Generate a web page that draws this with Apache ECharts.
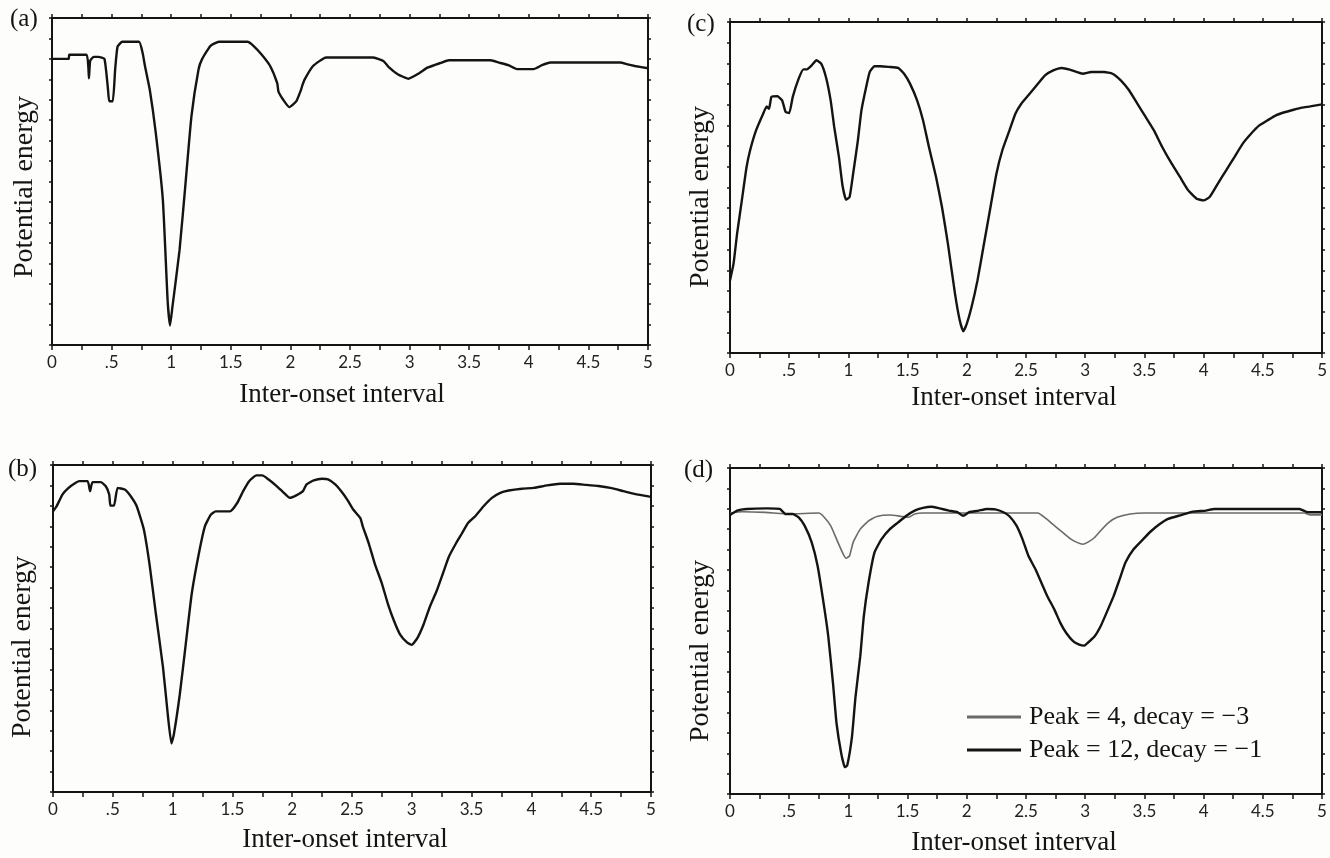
<!DOCTYPE html>
<html>
<head>
<meta charset="utf-8">
<script src="https://cdn.jsdelivr.net/npm/echarts@6/dist/echarts.min.js"></script>
<style>
html,body{margin:0;padding:0;background:#fdfdfb;}
#chart{width:1330px;height:858px;}
</style>
</head>
<body>
<div id="chart"></div>
<script>
// ---- tick labels ----
const xTickLabels = ['0', '.5', '1', '1.5', '2', '2.5', '3', '3.5', '4', '4.5', '5'];
const panelLabels = ['(a)', '(b)', '(c)', '(d)'];
const xAxisTitle = 'Inter-onset interval';
const yAxisTitle = 'Potential energy';
const legendNames = ['Peak = 4, decay = \u22123', 'Peak = 12, decay = \u22121'];

// ---- panel (a) ----
const aX = [0, 0.14, 0.145, 0.29, 0.305, 0.31, 0.32, 0.35, 0.39, 0.44, 0.47, 0.48, 0.51, 0.53, 0.55, 0.59, 0.73, 0.76, 0.78, 0.82, 0.87, 0.93, 0.97, 0.99, 1.01, 1.07, 1.12, 1.17, 1.23, 1.26, 1.33, 1.4, 1.64, 1.69, 1.76, 1.83, 1.89, 1.9, 1.94, 1.99, 2.05, 2.09, 2.1, 2.12, 2.19, 2.3, 2.69, 2.78, 2.83, 2.9, 2.99, 3.08, 3.15, 3.26, 3.33, 3.68, 3.75, 3.83, 3.9, 4.04, 4.11, 4.18, 4.77, 4.82, 4.89, 5.0];
const aY = [14.0, 14.0, 14.2, 14.2, 13.6, 13.05, 13.9, 14.1, 14.1, 14.0, 12.5, 11.93, 11.93, 13.5, 14.6, 14.84, 14.84, 14.3, 13.65, 12.5, 10.4, 7.1, 2.18, 0.95, 1.85, 4.64, 7.9, 11.2, 13.5, 14.0, 14.64, 14.84, 14.84, 14.64, 14.2, 13.65, 12.8, 12.4, 12.0, 11.64, 11.93, 12.5, 12.7, 13.0, 13.65, 14.07, 14.07, 13.9, 13.57, 13.25, 13.03, 13.3, 13.57, 13.8, 13.93, 13.93, 13.82, 13.69, 13.5, 13.5, 13.69, 13.82, 13.82, 13.74, 13.65, 13.54];

// ---- panel (b) ----
const bX = [0, 0.03, 0.08, 0.13, 0.19, 0.22, 0.29, 0.31, 0.33, 0.4, 0.44, 0.47, 0.48, 0.51, 0.54, 0.6, 0.65, 0.7, 0.76, 0.81, 0.86, 0.92, 0.96, 0.99, 1.01, 1.06, 1.11, 1.16, 1.22, 1.27, 1.32, 1.36, 1.48, 1.54, 1.59, 1.64, 1.7, 1.75, 1.8, 1.87, 1.93, 1.98, 2.03, 2.09, 2.12, 2.18, 2.25, 2.3, 2.36, 2.41, 2.46, 2.51, 2.57, 2.59, 2.64, 2.69, 2.75, 2.8, 2.85, 2.9, 2.96, 3.0, 3.05, 3.1, 3.15, 3.21, 3.26, 3.31, 3.37, 3.42, 3.47, 3.53, 3.6, 3.67, 3.74, 3.81, 3.92, 4.02, 4.13, 4.24, 4.35, 4.45, 4.56, 4.66, 4.77, 4.88, 5.0];
const bY = [13.73, 13.98, 14.56, 14.88, 15.13, 15.21, 15.21, 14.72, 15.16, 15.16, 14.97, 14.56, 14.01, 14.01, 14.88, 14.8, 14.47, 13.98, 12.83, 11.02, 8.72, 6.09, 3.78, 2.38, 2.8, 4.77, 7.24, 9.7, 11.68, 13.0, 13.57, 13.73, 13.73, 14.14, 14.72, 15.21, 15.49, 15.49, 15.3, 14.97, 14.64, 14.39, 14.5, 14.72, 15.05, 15.25, 15.33, 15.3, 15.05, 14.72, 14.31, 13.82, 13.4, 13.0, 12.17, 11.18, 10.2, 9.21, 8.39, 7.73, 7.32, 7.2, 7.57, 8.22, 9.05, 9.87, 10.69, 11.51, 12.17, 12.66, 13.16, 13.49, 13.98, 14.39, 14.64, 14.75, 14.84, 14.88, 15.0, 15.08, 15.08, 15.03, 14.97, 14.88, 14.72, 14.56, 14.44];

// ---- panel (c) ----
const cX = [0, 0.03, 0.06, 0.1, 0.14, 0.17, 0.22, 0.28, 0.31, 0.33, 0.35, 0.4, 0.44, 0.47, 0.5, 0.53, 0.58, 0.62, 0.65, 0.69, 0.73, 0.77, 0.81, 0.85, 0.88, 0.92, 0.95, 0.98, 1.01, 1.04, 1.08, 1.11, 1.15, 1.18, 1.22, 1.27, 1.34, 1.42, 1.47, 1.52, 1.58, 1.63, 1.68, 1.74, 1.79, 1.84, 1.9, 1.94, 1.97, 2.0, 2.04, 2.09, 2.14, 2.2, 2.25, 2.3, 2.36, 2.41, 2.46, 2.52, 2.59, 2.66, 2.73, 2.8, 2.87, 2.98, 3.05, 3.16, 3.23, 3.3, 3.37, 3.44, 3.51, 3.58, 3.65, 3.73, 3.8, 3.87, 3.94, 4.0, 4.05, 4.12, 4.19, 4.26, 4.33, 4.4, 4.47, 4.54, 4.61, 4.69, 4.76, 4.83, 4.9, 5.0];
const cY = [3.51, 4.32, 5.77, 7.38, 8.99, 9.8, 10.76, 11.57, 11.92, 11.8, 12.38, 12.41, 12.21, 11.65, 11.6, 12.38, 13.26, 13.71, 13.71, 13.9, 14.15, 13.99, 13.34, 12.21, 10.93, 9.47, 8.1, 7.41, 7.54, 8.67, 10.28, 11.73, 12.86, 13.58, 13.86, 13.86, 13.83, 13.78, 13.5, 13.02, 12.21, 11.25, 9.96, 8.51, 7.06, 5.29, 2.87, 1.58, 1.05, 1.42, 2.22, 3.51, 5.12, 7.06, 8.67, 9.8, 10.76, 11.57, 12.05, 12.46, 12.94, 13.42, 13.66, 13.78, 13.7, 13.5, 13.58, 13.58, 13.5, 13.18, 12.7, 12.05, 11.41, 10.76, 9.96, 9.15, 8.51, 7.86, 7.46, 7.38, 7.54, 8.19, 8.83, 9.47, 10.12, 10.6, 11.0, 11.25, 11.49, 11.65, 11.76, 11.86, 11.92, 12.02];

// ---- panel (d): Peak = 4, decay = -3 ----
const d1X = [0, 0.1, 0.3, 0.5, 0.75, 0.79, 0.85, 0.9, 0.95, 0.98, 1.01, 1.04, 1.1, 1.17, 1.24, 1.35, 1.45, 1.51, 1.56, 1.63, 2.6, 2.67, 2.74, 2.81, 2.88, 2.93, 2.98, 3.02, 3.08, 3.13, 3.2, 3.27, 3.38, 3.5, 4.85, 4.9, 5.0];
const d1Y = [13.79, 13.85, 13.82, 13.75, 13.79, 13.62, 13.17, 12.51, 11.85, 11.57, 11.69, 12.35, 13.0, 13.41, 13.62, 13.69, 13.62, 13.58, 13.74, 13.79, 13.79, 13.51, 13.17, 12.84, 12.51, 12.35, 12.26, 12.35, 12.59, 12.92, 13.33, 13.58, 13.74, 13.79, 13.79, 13.7, 13.7];
// ---- panel (d): Peak = 12, decay = -1 ----
const d2X = [0, 0.06, 0.14, 0.31, 0.42, 0.47, 0.53, 0.58, 0.63, 0.69, 0.74, 0.79, 0.83, 0.87, 0.9, 0.94, 0.97, 0.99, 1.03, 1.06, 1.1, 1.13, 1.17, 1.22, 1.28, 1.35, 1.42, 1.49, 1.56, 1.63, 1.7, 1.77, 1.85, 1.92, 1.97, 2.02, 2.1, 2.17, 2.24, 2.31, 2.36, 2.42, 2.47, 2.52, 2.58, 2.63, 2.68, 2.74, 2.79, 2.84, 2.9, 2.95, 2.99, 3.02, 3.08, 3.13, 3.18, 3.24, 3.29, 3.34, 3.41, 3.49, 3.56, 3.63, 3.7, 3.81, 3.91, 4.02, 4.09, 4.81, 4.88, 5.0];
const d2Y = [13.69, 13.91, 13.99, 14.02, 13.99, 13.74, 13.74, 13.58, 13.17, 12.35, 11.19, 9.38, 7.74, 5.43, 3.46, 1.98, 1.32, 1.4, 2.8, 4.77, 6.75, 8.72, 10.37, 11.85, 12.51, 13.0, 13.33, 13.66, 13.91, 14.04, 14.1, 14.02, 13.91, 13.83, 13.66, 13.83, 13.91, 13.99, 13.97, 13.83, 13.63, 13.17, 12.51, 11.69, 11.03, 10.37, 9.71, 9.05, 8.4, 7.9, 7.49, 7.33, 7.28, 7.41, 7.74, 8.23, 8.89, 9.71, 10.53, 11.36, 12.02, 12.51, 12.92, 13.25, 13.5, 13.69, 13.86, 13.91, 13.99, 13.99, 13.83, 13.83];

const zip = (xs, ys) => xs.map((x, i) => [x, ys[i]]);

const INK = '#141414';
const SERIF = '"Liberation Serif", "DejaVu Serif", serif';
const SANS = 'Lato, "Open Sans", sans-serif';

// grid boxes for a, b, c, d
const grids = [
  {left: 52, top: 18, width: 596, height: 327},
  {left: 53, top: 465, width: 598, height: 327},
  {left: 730, top: 22, width: 597, height: 331},
  {left: 730, top: 468, width: 592, height: 326}
];

function xLabel(v) {
  const k = Math.round(v / 0.25);
  if (k % 2 !== 0) return '';
  return xTickLabels[k / 2] !== undefined ? xTickLabels[k / 2] : '';
}

const xAxes = [], yAxes = [];
grids.forEach((g, i) => {
  xAxes.push({
    type: 'value', gridIndex: i, position: 'bottom', min: 0, max: 5, interval: 0.25,
    axisLine: {show: true, onZero: false, lineStyle: {color: INK, width: 2}},
    axisTick: {show: true, inside: false, length: 5, lineStyle: {color: INK, width: 1.5}},
    axisLabel: {show: true, margin: 9, formatter: xLabel, color: '#222', fontFamily: SANS, fontSize: 17},
    splitLine: {show: false}
  });
  xAxes.push({
    type: 'value', gridIndex: i, position: 'top', min: 0, max: 5, interval: 0.25,
    axisLine: {show: true, onZero: false, lineStyle: {color: INK, width: 2}},
    axisTick: {show: true, inside: false, length: 4, lineStyle: {color: INK, width: 1.5}},
    axisLabel: {show: false}, splitLine: {show: false}
  });
  yAxes.push({
    type: 'value', gridIndex: i, position: 'left', min: 0, max: 16, interval: 1,
    axisLine: {show: true, onZero: false, lineStyle: {color: INK, width: 2}},
    axisTick: {show: true, inside: false, length: 3, lineStyle: {color: INK, width: 1.5}},
    axisLabel: {show: false}, splitLine: {show: false}
  });
  yAxes.push({
    type: 'value', gridIndex: i, position: 'right', min: 0, max: 16, interval: 1,
    axisLine: {show: true, onZero: false, lineStyle: {color: INK, width: 2}},
    axisTick: {show: true, inside: false, length: 3, lineStyle: {color: INK, width: 1.5}},
    axisLabel: {show: false}, splitLine: {show: false}
  });
});

function lineSeries(name, gi, data, color, width) {
  return {
    name: name, type: 'line', xAxisIndex: gi * 2, yAxisIndex: gi * 2,
    data: data, showSymbol: false, symbol: 'none', smooth: 0.15,
    lineStyle: {color: color, width: width}, itemStyle: {color: color},
    animation: false, z: 3
  };
}

const series = [
  lineSeries('a', 0, zip(aX, aY), INK, 2.4),
  lineSeries('b', 1, zip(bX, bY), INK, 2.4),
  lineSeries('c', 2, zip(cX, cY), INK, 2.4),
  lineSeries(legendNames[0], 3, zip(d1X, d1Y), '#6a6a6a', 1.6),
  lineSeries(legendNames[1], 3, zip(d2X, d2Y), INK, 2.4)
];

// text positions
const panelPos = [[10, 7], [8, 457], [687, 12], [684, 458]];
const yTitlePos = [[25, 187], [23, 647], [701, 197], [701, 651]];
const xTitlePos = [[342, 395], [345, 840], [1014, 398], [1014, 843]];

const graphic = [];
panelLabels.forEach((t, i) => {
  graphic.push({type: 'text', left: panelPos[i][0], top: panelPos[i][1],
    style: {text: t, fontFamily: SERIF, fontSize: 25, fill: INK}});
  graphic.push({type: 'text', x: yTitlePos[i][0], y: yTitlePos[i][1], rotation: Math.PI / 2,
    style: {text: yAxisTitle, fontFamily: SERIF, fontSize: 28, fill: INK, align: 'center', verticalAlign: 'middle'}});
  graphic.push({type: 'text', x: xTitlePos[i][0], y: xTitlePos[i][1],
    style: {text: xAxisTitle, fontFamily: SERIF, fontSize: 27, fill: INK, align: 'center', verticalAlign: 'middle'}});
});

const chart = echarts.init(document.getElementById('chart'), null, {renderer: 'canvas'});
chart.setOption({
  backgroundColor: '#fdfdfb',
  animation: false,
  grid: grids.map(g => Object.assign({show: false, containLabel: false}, g)),
  xAxis: xAxes,
  yAxis: yAxes,
  legend: {
    left: 962, top: 699, orient: 'vertical', itemWidth: 54, itemHeight: 3, itemGap: 7,
    icon: 'rect',
    data: legendNames,
    textStyle: {fontFamily: SERIF, fontSize: 26, color: INK, padding: [0, 0, 0, 3]},
    selectedMode: false
  },
  graphic: graphic,
  series: series
});
</script>
</body>
</html>
